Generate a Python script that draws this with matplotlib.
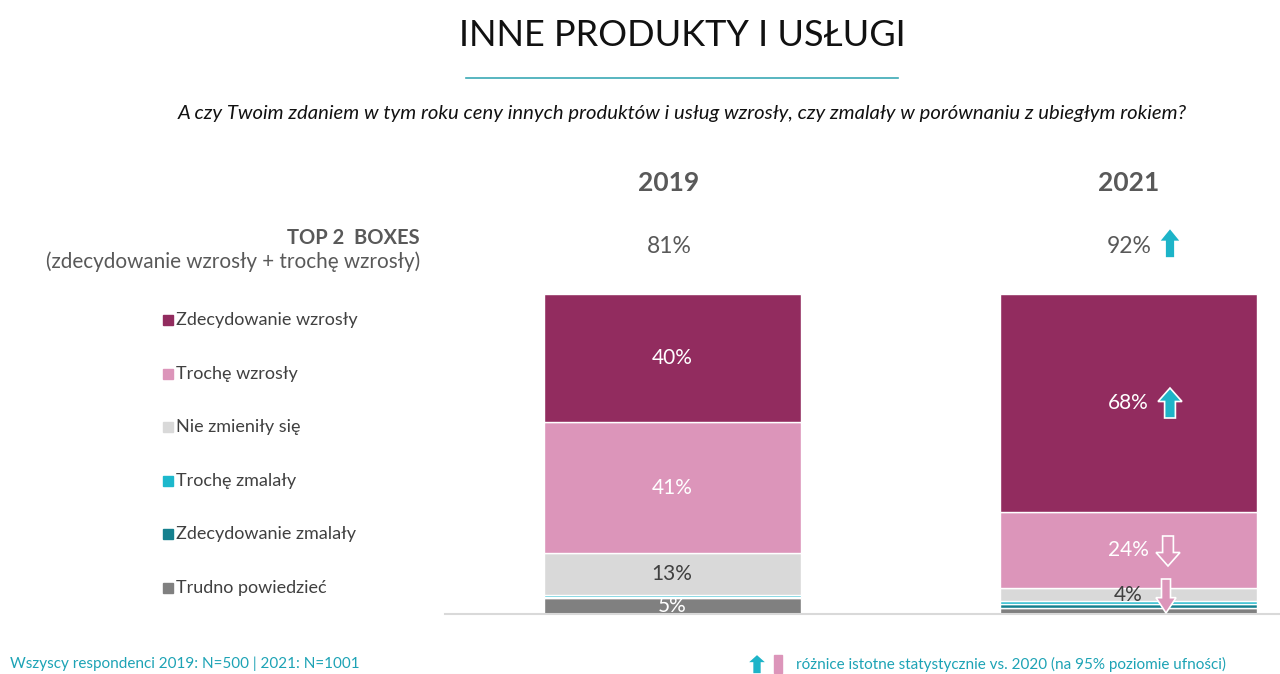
import matplotlib.pyplot as plt
from matplotlib.patches import Polygon, Rectangle
from matplotlib.lines import Line2D

plt.rcParams['font.family'] = ['Lato', 'DejaVu Sans']

lata = ['2019', '2021']
kategorie = ['Zdecydowanie wzrosły', 'Trochę wzrosły', 'Nie zmieniły się',
             'Trochę zmalały', 'Zdecydowanie zmalały', 'Trudno powiedzieć']
wartosci_2019 = [40, 41, 13, 0.7, 0.3, 5]
wartosci_2021 = [68, 24, 4, 1, 1, 2]
top2 = ['81%', '92%']
etykiety_2019 = ['40%', '41%', '13%', '', '', '5%']
etykiety_2021 = ['68%', '24%', '4%', '', '', '']
kolory = ['#922C5F', '#DC95BA', '#D9D9D9', '#1DB8CC', '#15808E', '#808080']
kolory_tekstu = ['white', 'white', '#404040', 'white', 'white', 'white']

W, H = 1280, 674
fig = plt.figure(figsize=(12.8, 6.74), dpi=100)

def fx(px):
    return px / W

def fy(py):
    return 1 - py / H

# os z slupkami: 0% na y=614, 100% na y=294
ax = fig.add_axes([fx(445), fy(614), fx(1280) - fx(445), fy(294) - fy(614)])
ax.set_xlim(-227 / 456, 1 + 152 / 456)
ax.set_ylim(0, 100)
ax.axis('off')

szer = 257 / 456
for i, wart in enumerate([wartosci_2019, wartosci_2021]):
    dol = 0
    etyk = [etykiety_2019, etykiety_2021][i]
    # od dolu: trudno powiedziec, zdec. zmalaly, ... zdec. wzrosly
    for k in range(len(wart) - 1, -1, -1):
        ax.bar(i, wart[k], bottom=dol, width=szer, color=kolory[k],
               edgecolor='white', linewidth=1.0)
        if etyk[k]:
            ax.text(i, dol + wart[k] / 2, etyk[k], ha='center', va='center',
                    fontsize=15, color=kolory_tekstu[k])
        dol += wart[k]
ax.axhline(0, color='#D9D9D9', linewidth=1.5, clip_on=False)

# tytul
fig.text(fx(682), fy(35), 'INNE PRODUKTY I USŁUGI', ha='center', va='center',
         fontsize=26, color='#111111')
fig.add_artist(Line2D([fx(466), fx(898)], [fy(78), fy(78)], color='#3BA9B5', linewidth=1.2))
fig.text(fx(682), fy(114), 'A czy Twoim zdaniem w tym roku ceny innych produktów i usług wzrosły, '
         'czy zmalały w porównaniu z ubiegłym rokiem?', ha='center', va='center',
         fontsize=14.6, style='italic', color='#111111')

# lata i top 2
for i, (rok, t2) in enumerate(zip(lata, top2)):
    xc = [669, 1129][i]
    fig.text(fx(xc), fy(183), rok, ha='center', va='center', fontsize=19,
             fontweight='bold', color='#595959')
    fig.text(fx(xc), fy(246), t2, ha='center', va='center', fontsize=16.5, color='#595959')

fig.text(fx(420), fy(238), 'TOP 2  BOXES', ha='right', va='center', fontsize=14.5,
         fontweight='bold', color='#595959')
fig.text(fx(420), fy(262), '(zdecydowanie wzrosły + trochę wzrosły)', ha='right',
         va='center', fontsize=14.9, color='#595959')

# legenda
for k, (nazwa, kol) in enumerate(zip(kategorie, kolory)):
    yc = 320 + k * 53.6
    fig.add_artist(Rectangle((fx(163), fy(yc + 5)), fx(10), fy(0) - fy(10),
                             transform=fig.transFigure, color=kol))
    fig.text(fx(176), fy(yc), nazwa, ha='left', va='center', fontsize=13, color='#404040')


def strzalka(xc, yc, w, h, gora, kolor, kraw):
    # blokowa strzalka w pikselach
    sw = w * 0.45
    hl = h * 0.45
    s = -1 if gora else 1
    t = yc + s * h / 2
    b = yc - s * h / 2
    pts = [(xc, t), (xc - w / 2, t - s * hl), (xc - sw / 2, t - s * hl),
           (xc - sw / 2, b), (xc + sw / 2, b), (xc + sw / 2, t - s * hl),
           (xc + w / 2, t - s * hl)]
    pts = [(fx(px), fy(py)) for px, py in pts]
    fig.add_artist(Polygon(pts, closed=True, transform=fig.transFigure,
                           facecolor=kolor, edgecolor=kraw, linewidth=1.2))


strzalka(1170, 243, 22, 30, True, '#1DB4C8', 'white')
strzalka(1170, 403, 24, 30, True, '#1DB4C8', 'white')
strzalka(1168, 551, 24, 30, False, '#DC95BA', 'white')
strzalka(1166, 596, 20, 34, False, '#DC95BA', 'white')

# stopka
fig.text(fx(10), fy(664), 'Wszyscy respondenci 2019: N=500 | 2021: N=1001', ha='left',
         va='center', fontsize=11, color='#1DA3B5')
strzalka(757, 664, 20, 20, True, '#1DB4C8', 'white')
fig.add_artist(Rectangle((fx(774), fy(673)), fx(8), fy(0) - fy(18),
                         transform=fig.transFigure, color='#DC95BA'))
fig.text(fx(796), fy(664), 'różnice istotne statystycznie vs. 2020 (na 95% poziomie ufności)',
         ha='left', va='center', fontsize=11, color='#1DA3B5')

fig.savefig('out.png', dpi=100)
